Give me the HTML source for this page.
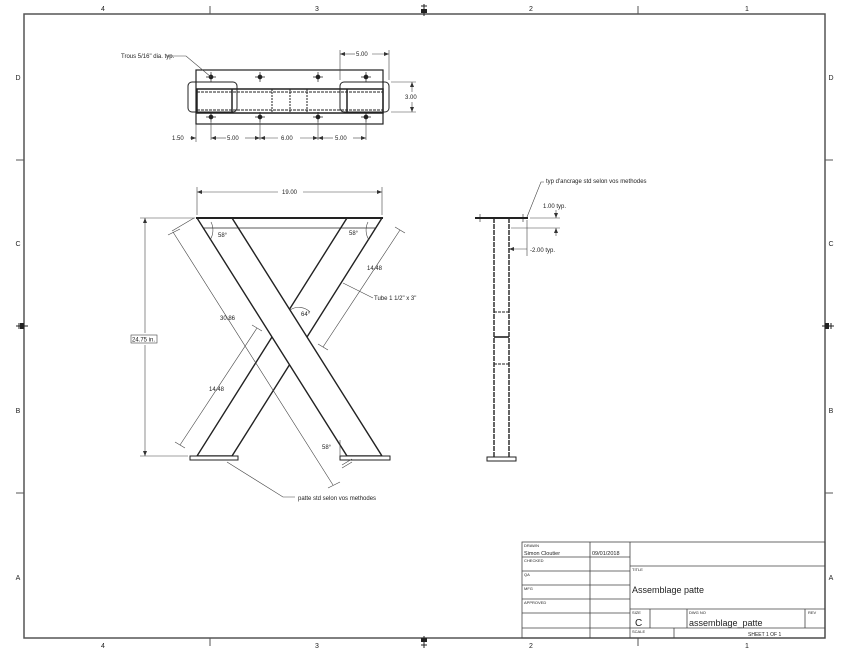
<!DOCTYPE html>
<html><head><meta charset="utf-8"><style>
html,body{margin:0;padding:0;background:#fff;}
svg{display:block;}
text{font-family:"Liberation Sans",sans-serif;fill:#222;}
</style></head><body>
<svg width="850" height="654" viewBox="0 0 850 654" xmlns="http://www.w3.org/2000/svg">
<defs>
<marker id="a" markerWidth="6" markerHeight="6" refX="5" refY="3" orient="auto-start-reverse" markerUnits="userSpaceOnUse"><path d="M0,1 L5,3 L0,5 z" fill="#333"/></marker>
</defs>
<!-- frame -->
<rect x="24" y="14" width="801" height="624" fill="none" stroke="#555" stroke-width="1.5"/>
<g font-size="7" text-anchor="middle">
<text x="103" y="11">4</text><text x="317" y="11">3</text><text x="531" y="11">2</text><text x="747" y="11">1</text>
<text x="103" y="648">4</text><text x="317" y="648">3</text><text x="531" y="648">2</text><text x="747" y="648">1</text>
<text x="18" y="80">D</text><text x="18" y="246">C</text><text x="18" y="413">B</text><text x="18" y="580">A</text>
<text x="831" y="80">D</text><text x="831" y="246">C</text><text x="831" y="413">B</text><text x="831" y="580">A</text>
</g>
<g stroke="#555" stroke-width="1">
<line x1="210" y1="6" x2="210" y2="14"/><line x1="638" y1="6" x2="638" y2="14"/>
<line x1="210" y1="638" x2="210" y2="646"/><line x1="638" y1="638" x2="638" y2="646"/>
<line x1="16" y1="160" x2="24" y2="160"/><line x1="16" y1="493" x2="24" y2="493"/>
<line x1="825" y1="160" x2="833" y2="160"/><line x1="825" y1="493" x2="833" y2="493"/>
</g>
<g fill="#222">
<path d="M421,6 h6 M424,4 v12" stroke="#222"/><rect x="421" y="9" width="6" height="4"/>
<path d="M424,636 v12 M421,645 h6" stroke="#222"/><rect x="421" y="638" width="6" height="4"/>
<path d="M16,326 h12 M19,323 v6" stroke="#222"/><rect x="20" y="323" width="4" height="6"/>
<path d="M822,326 h12 M831,323 v6" stroke="#222"/><rect x="825" y="323" width="4" height="6"/>
</g>

<!-- top plate view -->
<g stroke="#222" fill="none">
<rect x="196" y="70" width="187" height="54" stroke-width="1.2"/>
<rect x="188" y="82" width="49" height="30" rx="4" stroke-width="1"/>
<rect x="340" y="82" width="49" height="30" rx="4" stroke-width="1"/>
<rect x="197" y="89" width="186" height="24" stroke-width="1.5"/>
<line x1="197" y1="92" x2="383" y2="92" stroke-dasharray="3,1"/>
<line x1="197" y1="110" x2="383" y2="110" stroke-dasharray="3,1"/>
<line x1="232" y1="89" x2="232" y2="113" stroke-width="1.5"/>
<line x1="347" y1="89" x2="347" y2="113" stroke-width="1.5"/>
<line x1="272" y1="89" x2="272" y2="113" stroke-dasharray="2,1"/>
<line x1="290" y1="89" x2="290" y2="113" stroke-dasharray="2,1"/>
<line x1="307" y1="89" x2="307" y2="113" stroke-dasharray="2,1"/>
</g>
<g fill="#222" stroke="#222" stroke-width="0.7">
<circle cx="211" cy="77" r="2"/><circle cx="260" cy="77" r="2"/><circle cx="318" cy="77" r="2"/><circle cx="366" cy="77" r="2"/>
<circle cx="211" cy="117" r="2"/><circle cx="260" cy="117" r="2"/><circle cx="318" cy="117" r="2"/><circle cx="366" cy="117" r="2"/>
<path d="M206,77h10M211,72v10M255,77h10M260,72v10M313,77h10M318,72v10M361,77h10M366,72v10M206,117h10M211,112v10M255,117h10M260,112v10M313,117h10M318,112v10M361,117h10M366,112v10"/>
</g>
<g stroke="#444" stroke-width="0.6" fill="none">
<path d="M196,124v18M211,122v18M260,122v18M318,122v18M366,122v18"/>
<line x1="190" y1="138" x2="196" y2="138" marker-end="url(#a)"/>
<line x1="211" y1="138" x2="226" y2="138" marker-start="url(#a)"/><line x1="245" y1="138" x2="260" y2="138" marker-end="url(#a)"/>
<line x1="260" y1="138" x2="278" y2="138" marker-start="url(#a)"/><line x1="300" y1="138" x2="318" y2="138" marker-end="url(#a)"/>
<line x1="318" y1="138" x2="333" y2="138" marker-start="url(#a)"/><line x1="353" y1="138" x2="366" y2="138" marker-end="url(#a)"/>
<path d="M340,80v-30M389,80v-30"/>
<line x1="340" y1="54" x2="355" y2="54" marker-start="url(#a)"/><line x1="372" y1="54" x2="389" y2="54" marker-end="url(#a)"/>
<path d="M391,82h25M391,112h25"/>
<line x1="412" y1="82" x2="412" y2="92" marker-start="url(#a)"/><line x1="412" y1="102" x2="412" y2="112" marker-end="url(#a)"/>
<path d="M166,56 h20 L211,77"/>
</g>
<g font-size="6">
<text x="172" y="140">1.50</text><text x="227" y="140">5.00</text><text x="281" y="140">6.00</text><text x="335" y="140">5.00</text>
<text x="356" y="56">5.00</text><text x="405" y="99">3.00</text>
<text x="121" y="58">Trous 5/16" dia. typ.</text>
</g>

<!-- X frame -->
<g stroke="#222" stroke-width="1.4">
<polygon points="347,218 382,218 232,456 197,456" fill="#fff"/>
<polygon points="197,218 232,218 382,456 347,456" fill="#fff"/>
<line x1="196" y1="218" x2="383" y2="218" stroke-width="2"/>
<line x1="203" y1="228" x2="376" y2="228" stroke-width="0.8"/>
<rect x="190" y="456" width="48" height="4" fill="#fff" stroke-width="1"/>
<rect x="340" y="456" width="50" height="4" fill="#fff" stroke-width="1"/>
</g>
<g stroke="#444" stroke-width="0.6" fill="none">
<path d="M197,215v-28M382,215v-28"/>
<line x1="197" y1="192" x2="278" y2="192" marker-start="url(#a)"/><line x1="303" y1="192" x2="382" y2="192" marker-end="url(#a)"/>
<path d="M195,218h-55M188,456h-48"/>
<line x1="145" y1="218" x2="145" y2="333" marker-start="url(#a)"/><line x1="145" y1="345" x2="145" y2="456" marker-end="url(#a)"/>
<line x1="173" y1="232" x2="333" y2="485"/>
<path d="M168,235l12,-6M328,488l12,-6M194,218l-22,13M352,462 l-10,6 M342,465 l10,-6"/>
<line x1="400" y1="230" x2="323" y2="347"/>
<path d="M395,227l10,6M318,344l10,6"/>
<line x1="257" y1="328" x2="180" y2="445"/>
<path d="M252,325l10,6M175,442l10,6"/>
<path d="M343,283 L373,298"/>
<path d="M227,462 L283,497 h12"/>
<path d="M211,222 a18,18 0 0 1 -1,18"/><path d="M368,222 a18,18 0 0 0 1,18"/>
<path d="M290,310 a16,16 0 0 1 20,2"/>
<line x1="340" y1="440" x2="340" y2="456"/>
</g>
<g font-size="6">
<text x="282" y="194">19.00</text>
<rect x="131" y="335" width="26" height="8" fill="#fff" stroke="#444" stroke-width="0.6"/>
<text x="132" y="341.5">24.75 in.</text>
<text x="220" y="320">30.86</text><text x="367" y="270">14.48</text><text x="209" y="391">14.48</text>
<text x="218" y="237">58°</text><text x="349" y="235">58°</text><text x="301" y="316">64°</text><text x="322" y="449">58°</text>
<text x="374" y="300">Tube 1 1/2" x 3"</text>
<text x="298" y="500">patte std selon vos methodes</text>
</g>

<!-- side view -->
<g stroke="#222">
<line x1="475" y1="218" x2="528" y2="218" stroke-width="2"/>
<line x1="494" y1="218" x2="494" y2="457" stroke-width="1.4" stroke-dasharray="5,1"/>
<line x1="509" y1="218" x2="509" y2="457" stroke-width="1.4" stroke-dasharray="5,1"/>
<line x1="494" y1="312" x2="509" y2="312" stroke-width="1" stroke-dasharray="3,1"/>
<line x1="494" y1="337" x2="509" y2="337" stroke-width="1.6"/>
<line x1="494" y1="364" x2="509" y2="364" stroke-width="1" stroke-dasharray="3,1"/>
<rect x="487" y="457" width="29" height="4" fill="#fff" stroke-width="1"/>
<path d="M480,214v8M523,214v8" stroke-width="0.6"/>
</g>
<g stroke="#444" stroke-width="0.6" fill="none">
<path d="M527,217 L541,182 h3"/>
<path d="M530,218h30M511,228h49M527,220v36"/>
<line x1="556" y1="210" x2="556" y2="218" marker-end="url(#a)"/>
<line x1="556" y1="236" x2="556" y2="228" marker-end="url(#a)"/>
<line x1="509" y1="249" x2="527" y2="249" marker-start="url(#a)"/>
</g>
<g font-size="6">
<text x="546" y="183">typ d'ancrage std selon vos methodes</text>
<text x="543" y="208">1.00 typ.</text>
<text x="530" y="252">-2.00 typ.</text>
</g>

<!-- title block -->
<g stroke="#444" stroke-width="0.8" fill="none">
<rect x="522" y="542" width="303" height="96"/>
<path d="M522,557h108M522,571h108M522,585h108M522,599h108M522,613h108M522,628h303"/>
<path d="M590,542v96M630,542v96M630,566h195M630,609h195M650,609v19M687,609v19M805,609v19M674,628v10"/>
</g>
<g font-size="4" fill="#444">
<text x="524" y="547">DRAWN</text><text x="524" y="562">CHECKED</text><text x="524" y="576">QA</text>
<text x="524" y="590">MFG</text><text x="524" y="604">APPROVED</text>
<text x="632" y="571">TITLE</text><text x="632" y="614">SIZE</text><text x="689" y="614">DWG NO</text><text x="808" y="614">REV</text>
<text x="632" y="633">SCALE</text>
</g>
<g font-size="5.5"><text x="524" y="555">Simon Cloutier</text><text x="592" y="555">09/01/2018</text>
<text x="748" y="636" font-size="5">SHEET 1  OF 1</text></g>
<text x="632" y="593" font-size="9">Assemblage patte</text>
<text x="635" y="626" font-size="10">C</text>
<text x="689" y="626" font-size="9">assemblage_patte</text>
</svg>
</body></html>
